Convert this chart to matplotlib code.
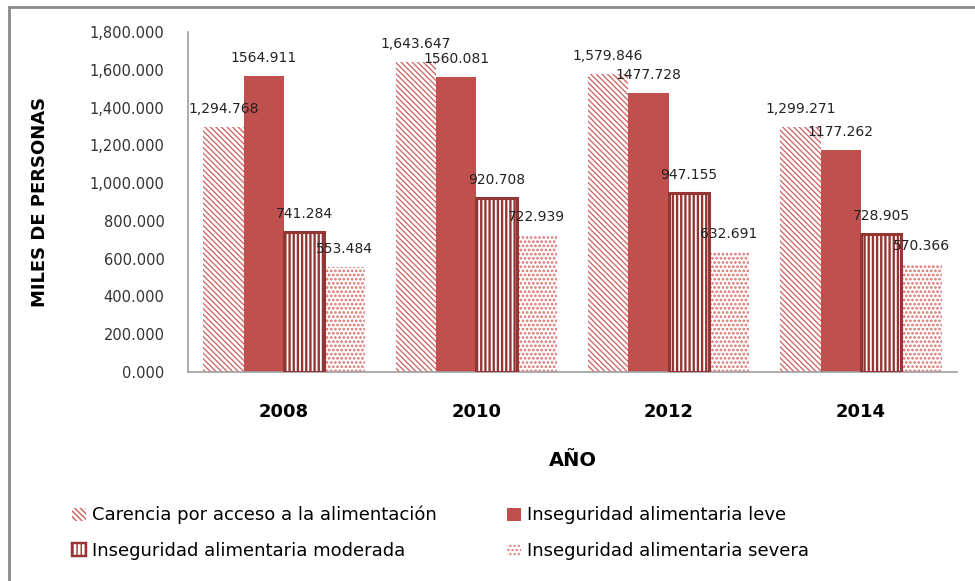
import matplotlib
matplotlib.use("Agg")
import matplotlib.pyplot as plt
from matplotlib.patches import Rectangle, Patch
from matplotlib.ticker import FuncFormatter

years = ["2008", "2010", "2012", "2014"]
series_names = [
    "Carencia por acceso a la alimentación",
    "Inseguridad alimentaria leve",
    "Inseguridad alimentaria moderada",
    "Inseguridad alimentaria severa",
]
carencia = [1294.768, 1643.647, 1579.846, 1299.271]
leve = [1564.911, 1560.081, 1477.728, 1177.262]
moderada = [741.284, 920.708, 947.155, 728.905]
severa = [553.484, 722.939, 632.691, 570.366]
label_comma = [True, False, False, False]

plt.rcParams['font.family'] = ['DejaVu Sans']

fig = plt.figure(figsize=(9.75, 5.81), dpi=100)
ax = fig.add_axes([188/975, 1 - 372/581, (957-188)/975, (372-32)/581])

red = '#C0504D'
dark = '#943634'
w = 0.21
x = range(len(years))

styles = [
    dict(facecolor='white', edgecolor='#CC5F5C', hatch='\\\\\\\\\\\\', linewidth=0, hlw=0.9, z=2),
    dict(facecolor=red, edgecolor=red, hatch=None, linewidth=0, hlw=1.0, z=2),
    dict(facecolor='white', edgecolor=dark, hatch='||||', linewidth=2.2, hlw=1.7, z=3),
    dict(facecolor='white', edgecolor='#D9706E', hatch='....', linewidth=0, hlw=1.3, z=2),
]
data = [carencia, leve, moderada, severa]
handles = []
for i, (vals, st) in enumerate(zip(data, styles)):
    with plt.rc_context({'hatch.linewidth': st['hlw']}):
        xs = [xi + (i - 1.5) * w for xi in x]
        bars = ax.bar(xs, vals, width=w, facecolor=st['facecolor'],
                      edgecolor=st['edgecolor'], hatch=st['hatch'],
                      linewidth=st['linewidth'], zorder=st['z'])
        for b in bars:
            if hasattr(b, 'set_hatch_linewidth'):
                b.set_hatch_linewidth(st['hlw'])
        h = Patch(facecolor=st['facecolor'], edgecolor=st['edgecolor'],
                  hatch=st['hatch'], linewidth=st['linewidth'] * 0.8,
                  label=series_names[i])
        if hasattr(h, 'set_hatch_linewidth'):
            h.set_hatch_linewidth(st['hlw'])
        handles.append(h)
    for xv, v in zip(xs, vals):
        if label_comma[i]:
            s = f"{v:,.3f}"
        else:
            s = f"{v:.3f}"
        ax.annotate(s, (xv, v), xytext=(0, 11), textcoords='offset pixels',
                    ha='center', va='bottom', fontsize=10, color='#222222', zorder=4)

ax.set_xlim(-0.5, 3.5)
ax.set_ylim(0, 1800)
ax.set_yticks(range(0, 1801, 200))
ax.yaxis.set_major_formatter(FuncFormatter(lambda v, p: f"{v:,.3f}"))
ax.set_xticks(list(x))
ax.set_xticklabels(years, fontsize=13, fontweight='bold')
ax.tick_params(axis='y', length=0, pad=17, labelsize=10.5, labelcolor='#333333')
ax.tick_params(axis='x', length=0, pad=22)
for s in ['top', 'right']:
    ax.spines[s].set_visible(False)
for s in ['left', 'bottom']:
    ax.spines[s].set_color('#A0A0A0')
    ax.spines[s].set_linewidth(1.2)

ax.set_xlabel("AÑO", fontsize=14, fontweight='bold', labelpad=22)
fig.text(40/975, 1 - 202/581, "MILES DE PERSONAS", rotation=90, fontsize=13,
         fontweight='bold', ha='center', va='center')

# legend order row-wise: (carencia, leve) / (moderada, severa)
order = [0, 2, 1, 3]
leg = fig.legend(handles=[handles[k] for k in order], loc='upper left',
                 bbox_to_anchor=(72/975, 1 - 506/581),
                 ncol=2, frameon=False, fontsize=13, handlelength=0.75, handleheight=0.75,
                 handletextpad=0.35, columnspacing=3.9, labelspacing=0.95,
                 borderaxespad=0, borderpad=0)

fig.patches.append(Rectangle((8.5/975, -0.1), 1.2, (581 - 7)/581 + 0.1,
                             transform=fig.transFigure, fill=False,
                             edgecolor='#8A8A8A', linewidth=2))

fig.savefig("out.png", dpi=100)
